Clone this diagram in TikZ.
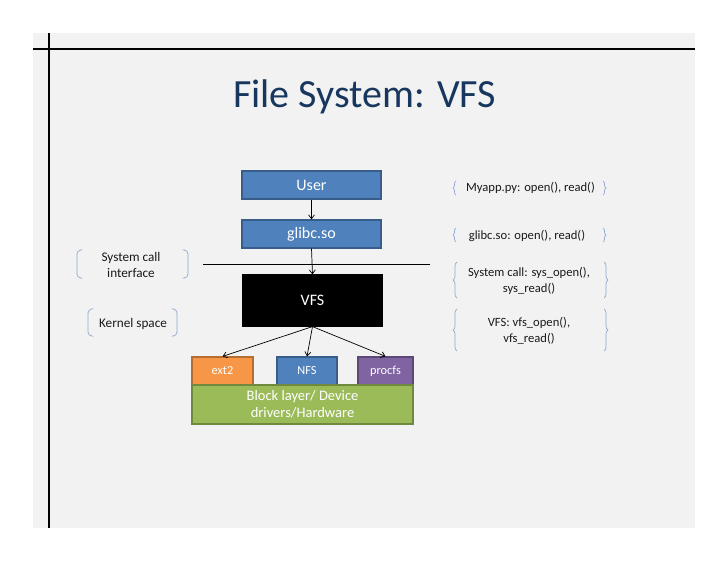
\documentclass[tikz,border=0pt]{standalone}
\usepackage{fontspec}
\setmainfont{Carlito}
\usetikzlibrary{arrows.meta,decorations.pathreplacing}
\definecolor{slidebg}{HTML}{F2F2F2}
\definecolor{titleblue}{HTML}{17375E}
\definecolor{boxblue}{HTML}{4F81BD}
\definecolor{boxblueD}{HTML}{385D8A}
\definecolor{boxorange}{HTML}{F79646}
\definecolor{boxorangeD}{HTML}{B66D31}
\definecolor{boxpurple}{HTML}{8064A2}
\definecolor{boxpurpleD}{HTML}{5C4776}
\definecolor{boxgreen}{HTML}{9BBB59}
\definecolor{boxgreenD}{HTML}{71893F}
\definecolor{bracecol}{HTML}{8EA9CF}
\definecolor{labeltext}{HTML}{1A1A1A}
\tikzset{
  layerbox/.style={draw, line width=1.2pt, inner sep=0pt, text=white, align=center},
  bluebox/.style={layerbox, fill=boxblue, draw=boxblueD, font=\fontsize{16}{18}\selectfont},
  smallbox/.style={layerbox, minimum height=28pt, font=\fontsize{12.3}{14}\selectfont},
  conn/.style={-{Straight Barb[length=4pt,width=6pt]}, line width=0.7pt, black},
  lbl/.style={align=center, text=labeltext, inner sep=0pt, font=\fontsize{12.6}{16.5}\selectfont},
  lbll/.style={lbl, font=\fontsize{13.2}{16}\selectfont},
  bracestyle/.style={draw=bracecol, line width=0.7pt},
}
\begin{document}
\begin{tikzpicture}[x=1pt,y=-1pt]
\useasboundingbox (0,0) rectangle (728,563);
\fill[white] (0,0) rectangle (728,563);
\fill[slidebg] (33,33) rectangle (695,528);
\draw[line width=1.8pt] (49,33) -- (49,528);
\draw[line width=1.8pt] (33,49) -- (695,49);

\node[anchor=base, text=titleblue, inner sep=0pt, font=\fontsize{40}{44}\selectfont] (title) at (364.5,107) {File System: VFS};

\node[bluebox, minimum width=139pt, minimum height=28pt] (user) at (311.5,185) {User};
\node[bluebox, minimum width=139pt, minimum height=28pt] (glibc) at (311.5,234) {glibc.so};
\node[layerbox, fill=black, draw=black, minimum width=139pt, minimum height=51pt, font=\fontsize{16}{18}\selectfont] (vfs) at (312.5,300.5) {VFS};

\node[smallbox, fill=boxorange, draw=boxorangeD, minimum width=61pt] (ext2) at (222.5,371) {ext2};
\node[smallbox, fill=boxblue, draw=boxblueD, minimum width=60pt] (nfs) at (307,371) {NFS};
\node[smallbox, fill=boxpurple, draw=boxpurpleD, minimum width=55pt] (procfs) at (385.5,371) {procfs};
\node[layerbox, fill=boxgreen, draw=boxgreenD, minimum width=221pt, minimum height=39pt, font=\fontsize{14.5}{17}\selectfont] (block) at (302.5,404.5) {Block layer/ Device\\drivers/Hardware};

\coordinate (sl) at (203,264);
\coordinate (sr) at (430,264);
\draw[line width=0.7pt] (sl) -- (sr);

\draw[conn] (user.south) -- (glibc.north);
\draw[conn] (glibc.south) -- (vfs.north);
\draw[conn] (vfs.south) -- (ext2.north);
\draw[conn] (vfs.south) -- (nfs.north);
\draw[conn] (vfs.south) -- (procfs.north);

% left labels with round brackets
\node[lbll] (sci) at (131,265) {System call\\interface};
\node[lbll] (ks) at (133,323.5) {Kernel space};
\draw[bracestyle, rounded corners=4pt] (80,250) -- (77,250) -- (77,278) -- (80,278);
\draw[bracestyle, rounded corners=4pt] (185,250) -- (188,250) -- (188,278) -- (185,278);
\draw[bracestyle, rounded corners=4pt] (91,309) -- (88,309) -- (88,336) -- (91,336);
\draw[bracestyle, rounded corners=4pt] (174,309) -- (177,309) -- (177,336) -- (174,336);

% right labels with curly braces
\node[lbl] (lapp) at (530.5,188) {Myapp.py: open(), read()};
\node[lbl] (lglibc) at (527,235.5) {glibc.so: open(), read()};
\node[lbl] (lsys) at (529,281) {System call: sys\_open(),\\sys\_read()};
\node[lbl] (lvfs) at (529,331) {VFS: vfs\_open(),\\vfs\_read()};

\draw[bracestyle, decorate, decoration={brace, amplitude=3pt}] (456,195) -- (456,181);
\draw[bracestyle, decorate, decoration={brace, amplitude=3pt}] (603,181) -- (603,195);
\draw[bracestyle, decorate, decoration={brace, amplitude=3pt}] (456,242) -- (456,228);
\draw[bracestyle, decorate, decoration={brace, amplitude=3pt}] (603,228) -- (603,242);
\draw[bracestyle, decorate, decoration={brace, amplitude=4pt}] (457,298) -- (457,262);
\draw[bracestyle, decorate, decoration={brace, amplitude=4pt}] (604,262) -- (604,298);
\draw[bracestyle, decorate, decoration={brace, amplitude=4pt}] (457,351) -- (457,309);
\draw[bracestyle, decorate, decoration={brace, amplitude=4pt}] (604,309) -- (604,351);
\end{tikzpicture}
\end{document}
